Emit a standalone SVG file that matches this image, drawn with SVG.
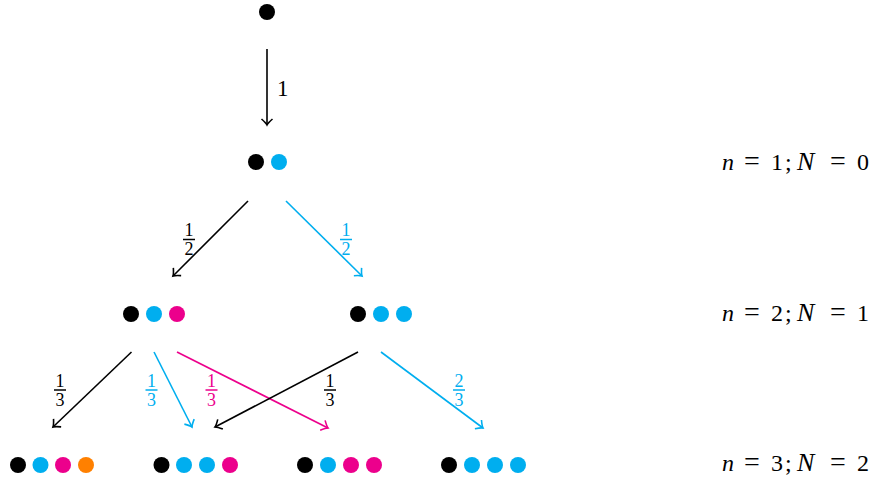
<svg xmlns="http://www.w3.org/2000/svg" width="875" height="480" viewBox="0 0 875 480">
<style>
.k{fill:#000}.c{fill:#00AEEF}.m{fill:#EC008C}.o{fill:#FF8000}
.e{fill:none;stroke-width:1.6}
.ek{stroke:#000}.ec{stroke:#00AEEF}.em{stroke:#EC008C}
.t{font-family:"Liberation Serif","Times New Roman",serif}
.f{font-size:18px;text-anchor:middle}
.lab{font-size:24px}
.i{font-style:italic}
.eq{font-size:28px}
.nn{font-size:26px}
</style>
<defs>
<marker id="ak" markerUnits="userSpaceOnUse" markerWidth="16" markerHeight="16" viewBox="-8 -8 16 16" refX="0" refY="0" orient="auto"><path d="M-6,-5.5 Q-2,-1 0,0 Q-2,1 -6,5.5" fill="none" stroke="#000" stroke-width="1.6"/></marker>
<marker id="ac" markerUnits="userSpaceOnUse" markerWidth="16" markerHeight="16" viewBox="-8 -8 16 16" refX="0" refY="0" orient="auto"><path d="M-6,-5.5 Q-2,-1 0,0 Q-2,1 -6,5.5" fill="none" stroke="#00AEEF" stroke-width="1.6"/></marker>
<marker id="am" markerUnits="userSpaceOnUse" markerWidth="16" markerHeight="16" viewBox="-8 -8 16 16" refX="0" refY="0" orient="auto"><path d="M-6,-5.5 Q-2,-1 0,0 Q-2,1 -6,5.5" fill="none" stroke="#EC008C" stroke-width="1.6"/></marker>
</defs>

<g id="connectors">
<line class="e ek" x1="267" y1="49" x2="267" y2="125" marker-end="url(#ak)"/>
<line class="e ek" x1="248" y1="201" x2="173" y2="276" marker-end="url(#ak)"/>
<line class="e ec" x1="286" y1="201" x2="362" y2="276" marker-end="url(#ac)"/>
<line class="e ek" x1="131.5" y1="352" x2="53" y2="427" marker-end="url(#ak)"/>
<line class="e ec" x1="154" y1="352" x2="192" y2="427" marker-end="url(#ac)"/>
<line class="e em" x1="177" y1="352" x2="328" y2="428" marker-end="url(#am)"/>
<line class="e ek" x1="358" y1="352" x2="215" y2="427" marker-end="url(#ak)"/>
<line class="e ec" x1="381" y1="352" x2="483" y2="428" marker-end="url(#ac)"/>
</g>

<g id="edge-labels" class="t">
<text x="277" y="96" font-size="23">1</text>
<g id="f1"><text class="t f" x="189" y="236">1</text><line x1="183" y1="239.5" x2="195" y2="239.5" stroke="#000" stroke-width="1.5"/><text class="t f" x="189" y="255">2</text></g>
<g id="f2" fill="#00AEEF"><text class="t f" x="346" y="236">1</text><line x1="340" y1="239.5" x2="352" y2="239.5" stroke="#00AEEF" stroke-width="1.5"/><text class="t f" x="346" y="255">2</text></g>
<g id="f3"><text class="t f" x="60" y="387">1</text><line x1="54" y1="390" x2="66" y2="390" stroke="#000" stroke-width="1.5"/><text class="t f" x="60" y="406">3</text></g>
<g id="f4" fill="#00AEEF"><text class="t f" x="151.5" y="387">1</text><line x1="145.5" y1="390" x2="157.5" y2="390" stroke="#00AEEF" stroke-width="1.5"/><text class="t f" x="151.5" y="406">3</text></g>
<g id="f5" fill="#EC008C"><text class="t f" x="211.5" y="387">1</text><line x1="205.5" y1="390" x2="217.5" y2="390" stroke="#EC008C" stroke-width="1.5"/><text class="t f" x="211.5" y="406">3</text></g>
<g id="f6"><text class="t f" x="330" y="387">1</text><line x1="324" y1="390" x2="336" y2="390" stroke="#000" stroke-width="1.5"/><text class="t f" x="330" y="406">3</text></g>
<g id="f7" fill="#00AEEF"><text class="t f" x="459" y="387">2</text><line x1="453" y1="390" x2="465" y2="390" stroke="#00AEEF" stroke-width="1.5"/><text class="t f" x="459" y="406">3</text></g>
</g>

<g id="node-root"><circle class="k" cx="267" cy="12" r="8"/></g>
<g id="node-n1"><circle class="k" cx="256" cy="162" r="8"/><circle class="c" cx="279" cy="162" r="8"/></g>
<g id="node-n2a"><circle class="k" cx="131" cy="314" r="8"/><circle class="c" cx="154" cy="314" r="8"/><circle class="m" cx="177" cy="314" r="8"/></g>
<g id="node-n2b"><circle class="k" cx="358" cy="314" r="8"/><circle class="c" cx="381" cy="314" r="8"/><circle class="c" cx="404" cy="314" r="8"/></g>
<g id="node-n3a"><circle class="k" cx="18" cy="465" r="8"/><circle class="c" cx="40.5" cy="465" r="8"/><circle class="m" cx="63" cy="465" r="8"/><circle class="o" cx="86" cy="465" r="8"/></g>
<g id="node-n3b"><circle class="k" cx="161.5" cy="465" r="8"/><circle class="c" cx="184" cy="465" r="8"/><circle class="c" cx="207" cy="465" r="8"/><circle class="m" cx="230" cy="465" r="8"/></g>
<g id="node-n3c"><circle class="k" cx="305" cy="465" r="8"/><circle class="c" cx="328" cy="465" r="8"/><circle class="m" cx="351" cy="465" r="8"/><circle class="m" cx="374" cy="465" r="8"/></g>
<g id="node-n3d"><circle class="k" cx="449" cy="465" r="8"/><circle class="c" cx="472" cy="465" r="8"/><circle class="c" cx="495" cy="465" r="8"/><circle class="c" cx="518" cy="465" r="8"/></g>

<g id="row-labels" class="t lab">
<text y="170"><tspan class="i" x="722">n</tspan><tspan class="eq" x="744">=</tspan><tspan x="771">1</tspan><tspan x="785">;</tspan><tspan class="i nn" x="797">N</tspan><tspan class="eq" x="830">=</tspan><tspan x="857">0</tspan></text>
<text y="321"><tspan class="i" x="722">n</tspan><tspan class="eq" x="744">=</tspan><tspan x="771">2</tspan><tspan x="785">;</tspan><tspan class="i nn" x="797">N</tspan><tspan class="eq" x="830">=</tspan><tspan x="857">1</tspan></text>
<text y="471"><tspan class="i" x="722">n</tspan><tspan class="eq" x="744">=</tspan><tspan x="771">3</tspan><tspan x="785">;</tspan><tspan class="i nn" x="797">N</tspan><tspan class="eq" x="830">=</tspan><tspan x="857">2</tspan></text>
</g>
</svg>
